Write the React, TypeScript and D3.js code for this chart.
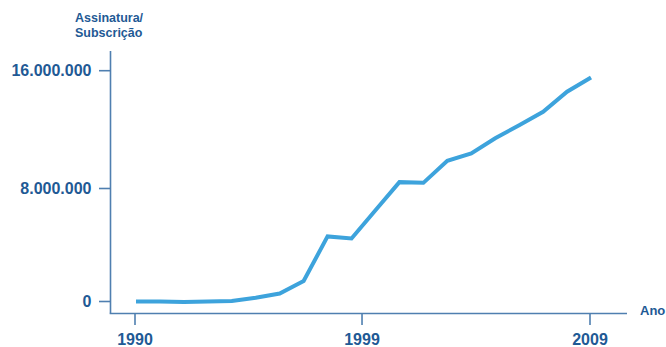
import React from "react";
import * as d3 from "d3";

const years = [1990, 1991, 1992, 1993, 1994, 1995, 1996, 1997, 1998, 1999, 2000, 2001, 2002, 2003, 2004, 2005, 2006, 2007, 2008, 2009];
const subscriptions = [0, 0, -40000, 0, 30000, 260000, 560000, 1450000, 4610000, 4460000, 6460000, 8450000, 8400000, 9960000, 10480000, 11560000, 12480000, 13430000, 14850000, 15860000];

const xTickPositions = [1990, 1999.48, 2009];
const xTickLabels = ["1990", "1999", "2009"];
const yTickPositions = [0, 8000000, 16340000];
const yTickLabels = ["0", "8.000.000", "16.000.000"];
const yTitle = ["Assinatura/", "Subscrição"];
const xTitle = "Ano";

const W = 666;
const H = 347;
const AXIS = "#4f7fb0";
const TEXT = "#1f5a95";
const LINE = "#3da3dc";
const FONT = "'Liberation Sans', Arial, sans-serif";

export default function App() {
  const x = d3.scaleLinear().domain([1990, 2009]).range([136, 591]);
  const y = d3.scaleLinear().domain([0, 8000000]).range([301.5, 188.5]);
  const line = d3
    .line<number>()
    .x((_, i) => x(years[i]))
    .y((d) => y(d));
  const axisX = 110.5;
  const axisY = 313.5;
  return (
    <svg
      width={W}
      height={H}
      style={{ position: "absolute", left: 0, top: 0, background: "#fff" }}
      fontFamily={FONT}
    >
      <text x={75} y={22} fontSize={12.5} fontWeight="bold" fill={TEXT}>
        {yTitle[0]}
      </text>
      <text x={75} y={37} fontSize={12.5} fontWeight="bold" fill={TEXT}>
        {yTitle[1]}
      </text>
      <line x1={axisX} x2={axisX} y1={51} y2={axisY} stroke={AXIS} strokeWidth={1.6} />
      <line x1={axisX - 0.8} x2={627} y1={axisY} y2={axisY} stroke={AXIS} strokeWidth={1.6} />
      {yTickPositions.map((v, i) => (
        <g key={"y" + i}>
          <line x1={99} x2={axisX} y1={y(v)} y2={y(v)} stroke={AXIS} strokeWidth={1.6} />
          <text
            x={91.5}
            y={y(v)}
            dy="0.36em"
            textAnchor="end"
            fontSize={16}
            fontWeight="bold"
            fill={TEXT}
          >
            {yTickLabels[i]}
          </text>
        </g>
      ))}
      {xTickPositions.map((v, i) => (
        <g key={"x" + i}>
          <line x1={x(v) - 1} x2={x(v) - 1} y1={axisY} y2={325} stroke={AXIS} strokeWidth={1.6} />
          <text x={x(v) - 1} y={345} textAnchor="middle" fontSize={16} fontWeight="bold" fill={TEXT}>
            {xTickLabels[i]}
          </text>
        </g>
      ))}
      <text x={640} y={315} fontSize={13} fontWeight="bold" fill={TEXT}>
        {xTitle}
      </text>
      <path
        d={line(subscriptions) || ""}
        fill="none"
        stroke={LINE}
        strokeWidth={4}
        strokeLinejoin="miter"
      />
    </svg>
  );
}
